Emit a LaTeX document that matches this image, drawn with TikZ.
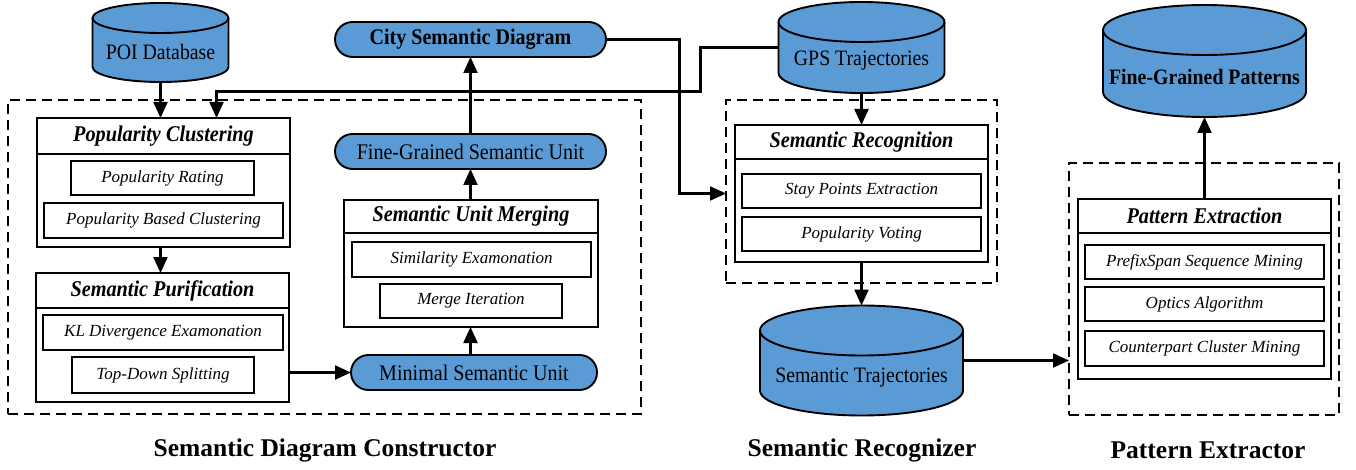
\documentclass[tikz,border=0pt]{standalone}
\usepackage{fontspec}
\setmainfont{Liberation Serif}
\newfontfamily\cmpfont{Liberation Serif}[FakeStretch=0.9]
\usetikzlibrary{arrows.meta,shapes.misc}
\definecolor{dbblue}{RGB}{91,155,213}
% #1 name, #2 cx, #3 top, #4 bottom, #5 half width, #6 ry, #7 text y, #8 text
\newcommand{\dbcyl}[8]{%
  \pgfmathsetmacro{\cyA}{#3+#6}%
  \pgfmathsetmacro{\cyB}{#4-#6}%
  \pgfmathsetmacro{\cxL}{#2-#5}%
  \pgfmathsetmacro{\cxR}{#2+#5}%
  \pgfmathsetmacro{\cyM}{(#3+#4)/2}%
  \pgfmathsetmacro{\cyH}{#4-#3}%
  \filldraw[cyl] (\cxL,\cyA) -- (\cxL,\cyB)
     arc[start angle=180,end angle=360,x radius=#5pt,y radius=#6pt]
     -- (\cxR,\cyA)
     arc[start angle=0,end angle=180,x radius=#5pt,y radius=#6pt] -- cycle;
  \draw[cyl,fill=none] (\cxL,\cyA) arc[start angle=180,end angle=360,x radius=#5pt,y radius=#6pt];
  \node[cylbox, minimum width=2*#5pt, minimum height=\cyH pt] (#1) at (#2,\cyM) {};
  \node[cyltext] (#1-t) at (#2,#7) {#8};
}
\tikzset{
 conn/.style={draw=black, line width=2.2pt, -{Triangle[length=16pt,width=14pt]}},
}
\begin{document}
\begin{tikzpicture}[x=1pt,y=-1pt,
 cyl/.style={line width=1.9pt, fill=dbblue},
 cylbox/.style={draw=none, inner sep=0pt, outer sep=0pt, rectangle},
 cyltext/.style={inner sep=0pt, font=\cmpfont\fontsize{22}{26}\selectfont},
 dashbox/.style={draw, line width=1.4pt, dash pattern=on 10pt off 6pt, inner sep=0pt, outer sep=0pt, anchor=north west},
 grp/.style={draw, line width=1.9pt, inner sep=0pt, outer sep=0pt, anchor=north west, fill=white},
 ttl/.style={grp, font=\cmpfont\fontsize{22.5}{26}\selectfont\bfseries\itshape},
 itm/.style={grp, font=\fontsize{17}{20}\selectfont\itshape},
 pill/.style={rounded rectangle, draw, line width=1.9pt, fill=dbblue, inner sep=0pt, outer sep=0pt, minimum width=271pt, minimum height=35pt, font=\cmpfont\fontsize{22.3}{26}\selectfont},
 lbl/.style={font=\fontsize{25.5}{30}\selectfont\bfseries},
]
\useasboundingbox (0,0) rectangle (1356,470);

% dashed frames
\node[dashbox, minimum width=633pt, minimum height=314pt] (db1) at (8,100) {};
\node[dashbox, minimum width=271pt, minimum height=183pt] (db2) at (726,100) {};
\node[dashbox, minimum width=270pt, minimum height=252pt] (db3) at (1069,163) {};

% cylinders
\dbcyl{poi}{160.5}{3}{82}{68}{15}{52}{POI Database}
\dbcyl{gps}{861.5}{2}{93}{83}{20}{61}{GPS Trajectories}
\dbcyl{st}{861.5}{305.5}{415.5}{101.5}{25}{378}{Semantic Trajectories}
\dbcyl{fgp}{1204.5}{5}{117}{101.5}{25}{77}{\bfseries Fine-Grained Patterns}

% Popularity Clustering
\node[grp, minimum width=253pt, minimum height=129pt] (pc) at (37,118) {};
\node[ttl, minimum width=253pt, minimum height=36pt] (pct) at (37,118) {Popularity Clustering};
\node[itm, minimum width=183pt, minimum height=34pt] (pr) at (71,161) {Popularity Rating};
\node[itm, minimum width=239pt, minimum height=35pt] (pbc) at (44,203) {Popularity Based Clustering};

% Semantic Purification
\node[grp, minimum width=253pt, minimum height=129pt] (sp) at (36,273) {};
\node[ttl, minimum width=253pt, minimum height=35pt] (spt) at (36,273) {Semantic Purification};
\node[itm, minimum width=240pt, minimum height=35pt] (kl) at (43,315) {KL Divergence Examonation};
\node[itm, minimum width=182pt, minimum height=36pt] (td) at (72,357) {Top-Down Splitting};

% Semantic Unit Merging
\node[grp, minimum width=254pt, minimum height=127pt] (sum) at (344,200) {};
\node[ttl, minimum width=254pt, minimum height=33pt] (sumt) at (344,200) {Semantic Unit Merging};
\node[itm, minimum width=239pt, minimum height=35pt] (se) at (352,242) {Similarity Examonation};
\node[itm, minimum width=182pt, minimum height=34pt] (mi) at (380,284) {Merge Iteration};

% pills
\node[pill] (csd) at (470.5,39.5) {\bfseries City Semantic Diagram};
\node[pill] (fgsu) at (470.5,151.5) {Fine-Grained Semantic Unit};
\node[pill, minimum width=246pt] (msu) at (474,372.5) {Minimal Semantic Unit};

% Semantic Recognition
\node[grp, minimum width=253pt, minimum height=137pt] (sr) at (735,125) {};
\node[ttl, minimum width=253pt, minimum height=34pt] (srt) at (735,125) {Semantic Recognition};
\node[itm, minimum width=239pt, minimum height=34pt] (spe) at (742,174) {Stay Points Extraction};
\node[itm, minimum width=239pt, minimum height=34pt] (pv) at (742,217) {Popularity Voting};

% Pattern Extraction
\node[grp, minimum width=253pt, minimum height=180pt] (pe) at (1078,199) {};
\node[ttl, minimum width=253pt, minimum height=34pt] (pet) at (1078,199) {Pattern Extraction};
\node[itm, minimum width=239pt, minimum height=34pt] (ps) at (1085,245) {PrefixSpan Sequence Mining};
\node[itm, minimum width=239pt, minimum height=34pt] (oa) at (1085,287) {Optics Algorithm};
\node[itm, minimum width=239pt, minimum height=35pt] (ccm) at (1085,331) {Counterpart Cluster Mining};

% labels
\node[lbl] (l1) at (325,450) {Semantic Diagram Constructor};
\node[lbl] (l2) at (862,450) {Semantic Recognizer};
\node[lbl] (l3) at (1208,450) {Pattern Extractor};

% connectors
\path[conn] (poi.south) -- (poi.south |- pc.north);
\coordinate (j1) at (216.5,91.5);
\coordinate (j0) at (700.5,47.5);
\path[conn] (j0 -| gps.west) -- (j0) |- (j1) -- (j1 |- pc.north);
\coordinate (j2) at (679.5,193.5);
\path[conn] (csd.east) -| (j2) -- (j2 -| db2.west);
\path[conn] ([xshift=-3pt]pc.south) -- ([xshift=-3pt]pc.south |- sp.north);
\path[conn] (msu.west -| sp.east) -- (msu.west);
\coordinate (j3) at (470.5,0);
\path[conn] (j3 |- msu.north) -- (j3 |- sum.south);
\path[conn] (j3 |- sum.north) -- (j3 |- fgsu.south);
\path[conn] (fgsu.north) -- (csd.south);
\path[conn] (gps.south) -- (gps.south |- sr.north);
\path[conn] (sr.south) -- (sr.south |- st.north);
\path[conn] (st.east) -- (st.east -| db3.west);
\path[conn] (pe.north) -- (pe.north |- fgp.south);
\end{tikzpicture}
\end{document}
